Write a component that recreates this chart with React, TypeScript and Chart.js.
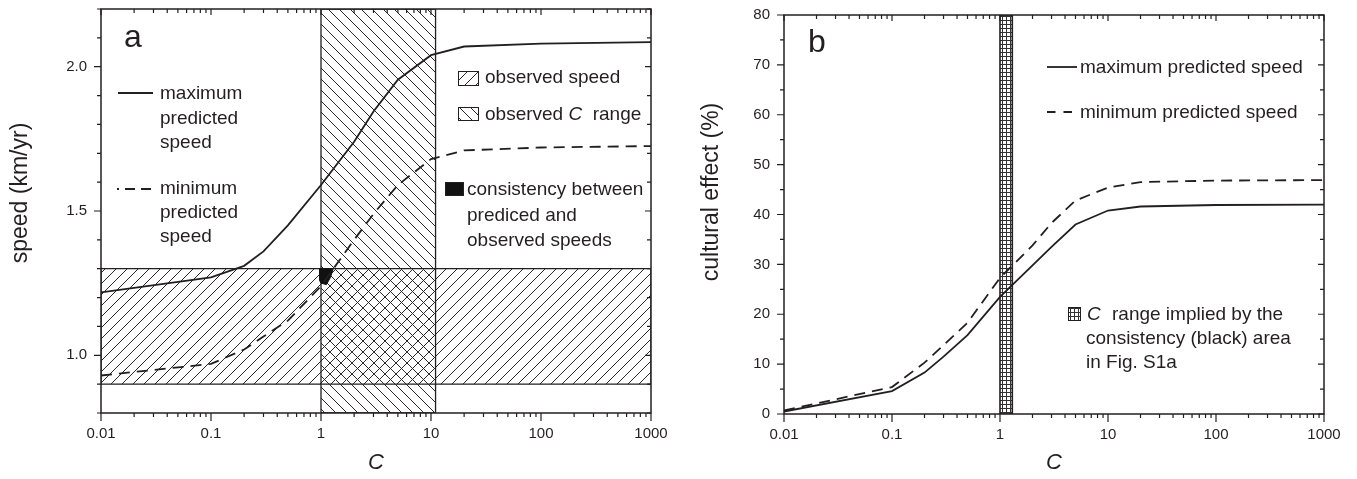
import React, { useEffect, useRef } from "react";
import { Chart, registerables } from "chart.js";

Chart.register(...registerables);

// ---------------- data ----------------
const cValues = [0.01, 0.1, 0.2, 0.3, 0.5, 1, 2, 3, 5, 10, 20, 100, 1000];
const maxSpeed = [1.218, 1.27, 1.31, 1.36, 1.45, 1.59, 1.74, 1.845, 1.955, 2.04, 2.07, 2.08, 2.085];
const minSpeed = [0.93, 0.97, 1.02, 1.065, 1.12, 1.24, 1.4, 1.49, 1.59, 1.68, 1.71, 1.72, 1.725];
const maxEffect = [0.5, 4.6, 8.3, 11.5, 15.8, 23.5, 29.8, 33.5, 38, 40.8, 41.6, 41.9, 42];
const minEffect = [0.7, 5.4, 10.3, 13.8, 18.3, 27.3, 33.8, 38.3, 42.8, 45.4, 46.5, 46.8, 46.9];

const observedSpeedRange = [0.9, 1.3];
const observedCRange = [1, 11];
const consistencyC = [0.97, 1.29, 1.22, 1.12, 1.0, 0.97, 0.97];
const consistencySpeed = [1.3, 1.3, 1.27, 1.245, 1.25, 1.26, 1.3];
const impliedCRange = [1.0, 1.3];

const xRange = [0.01, 1000];
const speedAxisRange = [0.8, 2.2];
const effectAxisRange = [0, 80];

const xTicks = [0.01, 0.1, 1, 10, 100, 1000];
const xTickLabels = ["0.01", "0.1", "1", "10", "100", "1000"];
const speedTicks = [1.0, 1.5, 2.0];
const speedTickLabels = ["1.0", "1.5", "2.0"];
const effectTicks = [0, 10, 20, 30, 40, 50, 60, 70, 80];
const effectTickLabels = ["0", "10", "20", "30", "40", "50", "60", "70", "80"];

// ---------------- style ----------------
const FONT = "'Liberation Sans', Arial, Helvetica, sans-serif";
const INK = "#231f20";
Chart.defaults.font.family = FONT;
Chart.defaults.color = INK;

const xMinorTicks: number[] = [];
for (const d of [0.01, 0.1, 1, 10, 100]) for (let k = 2; k <= 9; k++) xMinorTicks.push(+(d * k).toPrecision(3));
const speedMinorTicks: number[] = [];
for (let i = 8; i <= 22; i++) if (i % 5 !== 0) speedMinorTicks.push(i / 10);
const effectMinorTicks: number[] = [];
for (let v = 5; v < 80; v += 10) effectMinorTicks.push(v);

function pts(xs: number[], ys: number[]) {
  return xs.map((x, i) => ({ x, y: ys[i] }));
}
function rect(x0: number, x1: number, y0: number, y1: number) {
  return [
    { x: x0, y: y0 },
    { x: x0, y: y1 },
    { x: x1, y: y1 },
    { x: x1, y: y0 },
    { x: x0, y: y0 },
  ];
}

function makePattern(ctx: CanvasRenderingContext2D, kind: "fwd" | "back" | "grid", size: number) {
  const c = document.createElement("canvas");
  c.width = size;
  c.height = size;
  const g = c.getContext("2d")!;
  g.strokeStyle = "#2a2a2a";
  g.lineWidth = 1;
  g.beginPath();
  if (kind === "fwd") {
    g.moveTo(-1, size + 1);
    g.lineTo(size + 1, -1);
    g.moveTo(-1, 1);
    g.lineTo(1, -1);
    g.moveTo(size - 1, size + 1);
    g.lineTo(size + 1, size - 1);
  } else if (kind === "back") {
    g.moveTo(-1, -1);
    g.lineTo(size + 1, size + 1);
    g.moveTo(size - 1, -1);
    g.lineTo(size + 1, 1);
    g.moveTo(-1, size - 1);
    g.lineTo(1, size + 1);
  } else {
    g.fillStyle = "#ffffff";
    g.fillRect(0, 0, size, size);
    g.strokeStyle = "#333";
    g.moveTo(0.5, 0);
    g.lineTo(0.5, size);
    g.moveTo(0, 0.5);
    g.lineTo(size, 0.5);
  }
  g.stroke();
  return ctx.createPattern(c, "repeat")!;
}

function drawFrameTicks(chart: any, yMajor: number[], yMinor: number[]) {
  const ctx: CanvasRenderingContext2D = chart.ctx;
  const { left, right, top, bottom } = chart.chartArea;
  const xs = chart.scales.x;
  const ys = chart.scales.y;
  ctx.save();
  ctx.strokeStyle = INK;
  ctx.lineWidth = 1.2;
  ctx.beginPath();
  const xt = (vals: number[], outLen: number, inLen: number) => {
    for (const v of vals) {
      const p = xs.getPixelForValue(v);
      ctx.moveTo(p, bottom);
      ctx.lineTo(p, bottom + outLen);
      ctx.moveTo(p, top);
      ctx.lineTo(p, top + inLen);
    }
  };
  const yt = (vals: number[], outLen: number, inLen: number) => {
    for (const v of vals) {
      const p = ys.getPixelForValue(v);
      ctx.moveTo(left, p);
      ctx.lineTo(left - outLen, p);
      ctx.moveTo(right, p);
      ctx.lineTo(right - inLen, p);
    }
  };
  xt(xTicks, 8, 6);
  xt(xMinorTicks, 4, 4);
  yt(yMajor, 7, 6);
  yt(yMinor, 4, 4);
  ctx.stroke();
  ctx.lineWidth = 1.5;
  ctx.strokeRect(left, top, right - left, bottom - top);
  ctx.restore();
}

function txt(ctx: CanvasRenderingContext2D, s: string, x: number, y: number, size = 19, italic = false) {
  ctx.font = `${italic ? "italic " : ""}${size}px ${FONT}`;
  ctx.fillStyle = INK;
  ctx.textAlign = "left";
  ctx.textBaseline = "alphabetic";
  ctx.fillText(s, x, y);
}
function seg(ctx: CanvasRenderingContext2D, x1: number, y: number, x2: number, dash: number[] = [], offset = 0) {
  ctx.save();
  ctx.setLineDash(dash);
  ctx.lineDashOffset = offset;
  ctx.lineWidth = 1.8;
  ctx.strokeStyle = INK;
  ctx.beginPath();
  ctx.moveTo(x1, y);
  ctx.lineTo(x2, y);
  ctx.stroke();
  ctx.restore();
}
function swatch(ctx: CanvasRenderingContext2D, x: number, y: number, w: number, h: number, fill: any) {
  ctx.save();
  ctx.fillStyle = fill;
  ctx.fillRect(x, y, w, h);
  ctx.lineWidth = 1;
  ctx.strokeStyle = INK;
  ctx.strokeRect(x + 0.5, y + 0.5, w, h);
  ctx.restore();
}
function yTitle(ctx: CanvasRenderingContext2D, s: string, x: number, y: number) {
  ctx.save();
  ctx.translate(x, y);
  ctx.rotate(-Math.PI / 2);
  ctx.font = `23px ${FONT}`;
  ctx.fillStyle = INK;
  ctx.textAlign = "center";
  ctx.textBaseline = "middle";
  ctx.fillText(s, 0, 0);
  ctx.restore();
}

function xScale(height: number) {
  return {
    type: "logarithmic",
    min: xRange[0],
    max: xRange[1],
    afterBuildTicks: (s: any) => {
      s.ticks = xTicks.map((v) => ({ value: v }));
    },
    afterFit: (s: any) => {
      s.height = height;
      s.paddingLeft = 0;
      s.paddingRight = 0;
    },
    grid: { display: false, drawTicks: false },
    border: { display: false },
    ticks: {
      padding: 12,
      color: INK,
      font: { size: 15 },
      maxRotation: 0,
      autoSkip: false,
      callback: (_v: any, i: number) => xTickLabels[i],
    },
    title: {
      display: true,
      text: "C",
      color: INK,
      font: { size: 22, style: "italic" },
      padding: { top: 0, bottom: 3 },
    },
  };
}
function yScale(range: number[], ticks: number[], labels: string[], width: number) {
  return {
    type: "linear",
    min: range[0],
    max: range[1],
    afterBuildTicks: (s: any) => {
      s.ticks = ticks.map((v) => ({ value: v }));
    },
    afterFit: (s: any) => {
      s.width = width;
      s.paddingTop = 0;
      s.paddingBottom = 0;
    },
    grid: { display: false, drawTicks: false },
    border: { display: false },
    ticks: {
      padding: 14,
      color: INK,
      font: { size: 15 },
      autoSkip: false,
      callback: (_v: any, i: number) => labels[i],
    },
    title: { display: false },
  };
}

const curve = (data: any, label: string, dash: number[] = []) => ({
  label,
  data,
  borderColor: INK,
  borderWidth: 1.8,
  borderDash: dash,
  pointRadius: 0,
  fill: false,
  tension: 0,
});

export default function App() {
  const refA = useRef<HTMLCanvasElement>(null);
  const refB = useRef<HTMLCanvasElement>(null);

  useEffect(() => {
    const cA = refA.current!;
    const cB = refB.current!;
    const ctxA = cA.getContext("2d")!;
    const ctxB = cB.getContext("2d")!;
    const fwd = makePattern(ctxA, "fwd", 11);
    const back = makePattern(ctxA, "back", 11);
    const grid = makePattern(ctxB, "grid", 4);

    const decorA = {
      id: "decorA",
      afterDraw(chart: any) {
        const ctx: CanvasRenderingContext2D = chart.ctx;
        drawFrameTicks(chart, speedTicks, speedMinorTicks);
        yTitle(ctx, "speed (km/yr)", 21, 193);
        txt(ctx, "a", 124, 47, 32);
        // line legend
        seg(ctx, 118, 93, 153);
        txt(ctx, "maximum", 160, 99);
        txt(ctx, "predicted", 160, 124);
        txt(ctx, "speed", 160, 148);
        seg(ctx, 117, 189, 153, [10, 6], 8);
        txt(ctx, "minimum", 160, 194);
        txt(ctx, "predicted", 160, 218);
        txt(ctx, "speed", 160, 242);
        // area legend
        swatch(ctx, 458, 71, 20, 14, fwd);
        txt(ctx, "observed speed", 485, 83);
        swatch(ctx, 458, 107, 20, 13, back);
        txt(ctx, "observed ", 485, 120);
        ctx.font = `19px ${FONT}`;
        const w1 = ctx.measureText("observed ").width;
        txt(ctx, "C", 485 + w1, 120, 19, true);
        ctx.font = `italic 19px ${FONT}`;
        const w2 = ctx.measureText("C ").width;
        txt(ctx, " range", 485 + w1 + w2, 120);
        swatch(ctx, 445, 182, 18, 13, "#111");
        txt(ctx, "consistency between", 467, 195);
        txt(ctx, "prediced and", 467, 221);
        txt(ctx, "observed speeds", 467, 246);
      },
    };

    const OX = 670;
    const decorB = {
      id: "decorB",
      afterDraw(chart: any) {
        const ctx: CanvasRenderingContext2D = chart.ctx;
        drawFrameTicks(chart, effectTicks, effectMinorTicks);
        yTitle(ctx, "cultural effect (%)", 712 - OX, 192);
        txt(ctx, "b", 808 - OX, 52, 32);
        seg(ctx, 1047 - OX, 67, 1077 - OX);
        txt(ctx, "maximum predicted speed", 1080 - OX, 73);
        seg(ctx, 1047 - OX, 112, 1073 - OX, [8.5, 8]);
        txt(ctx, "minimum predicted speed", 1080 - OX, 118);
        swatch(ctx, 1068 - OX, 307, 12, 13, grid);
        txt(ctx, "C", 1087 - OX, 320, 19, true);
        txt(ctx, "range implied by the", 1112 - OX, 320);
        txt(ctx, "consistency (black) area", 1086 - OX, 344);
        txt(ctx, "in Fig. S1a", 1086 - OX, 368);
      },
    };

    const common = {
      responsive: false,
      animation: false,
      events: [],
      plugins: { legend: { display: false }, tooltip: { enabled: false } },
    };

    const chartA = new Chart(cA, {
      type: "line",
      data: {
        datasets: [
          curve(pts(cValues, maxSpeed), "maximum predicted speed"),
          curve(pts(cValues, minSpeed), "minimum predicted speed", [11, 7]),
          {
            label: "consistency between prediced and observed speeds",
            data: pts(consistencyC, consistencySpeed),
            borderColor: "#111",
            backgroundColor: "#111",
            borderWidth: 1,
            pointRadius: 0,
            fill: "shape",
            tension: 0,
          },
          {
            label: "observed C range",
            data: rect(observedCRange[0], observedCRange[1], speedAxisRange[0], speedAxisRange[1]),
            borderColor: INK,
            backgroundColor: back,
            borderWidth: 1.3,
            pointRadius: 0,
            fill: "shape",
            tension: 0,
          },
          {
            label: "observed speed",
            data: rect(xRange[0], xRange[1], observedSpeedRange[0], observedSpeedRange[1]),
            borderColor: INK,
            backgroundColor: fwd,
            borderWidth: 1.3,
            pointRadius: 0,
            fill: "shape",
            tension: 0,
          },
        ],
      },
      options: {
        ...common,
        layout: { padding: { left: 0, top: 9, right: 19, bottom: 0 } },
        scales: {
          x: xScale(66),
          y: yScale(speedAxisRange, speedTicks, speedTickLabels, 101),
        },
      } as any,
      plugins: [decorA],
    } as any);

    const chartB = new Chart(cB, {
      type: "line",
      data: {
        datasets: [
          curve(pts(cValues, maxEffect), "maximum predicted speed"),
          curve(pts(cValues, minEffect), "minimum predicted speed", [11, 7]),
          {
            label: "C range implied by the consistency (black) area in Fig. S1a",
            data: rect(impliedCRange[0], impliedCRange[1], effectAxisRange[0], effectAxisRange[1]),
            borderColor: INK,
            backgroundColor: grid,
            borderWidth: 1.6,
            pointRadius: 0,
            fill: "shape",
            tension: 0,
          },
        ],
      },
      options: {
        ...common,
        layout: { padding: { left: 0, top: 15, right: 33, bottom: 0 } },
        scales: {
          x: xScale(65),
          y: yScale(effectAxisRange, effectTicks, effectTickLabels, 114),
        },
      } as any,
      plugins: [decorB],
    } as any);

    return () => {
      chartA.destroy();
      chartB.destroy();
    };
  }, []);

  return (
    <div style={{ position: "absolute", left: 0, top: 0, width: 1357, height: 479, background: "#fff" }}>
      <canvas ref={refA} width={670} height={479} style={{ position: "absolute", left: 0, top: 0 }} />
      <canvas ref={refB} width={687} height={479} style={{ position: "absolute", left: 670, top: 0 }} />
    </div>
  );
}
